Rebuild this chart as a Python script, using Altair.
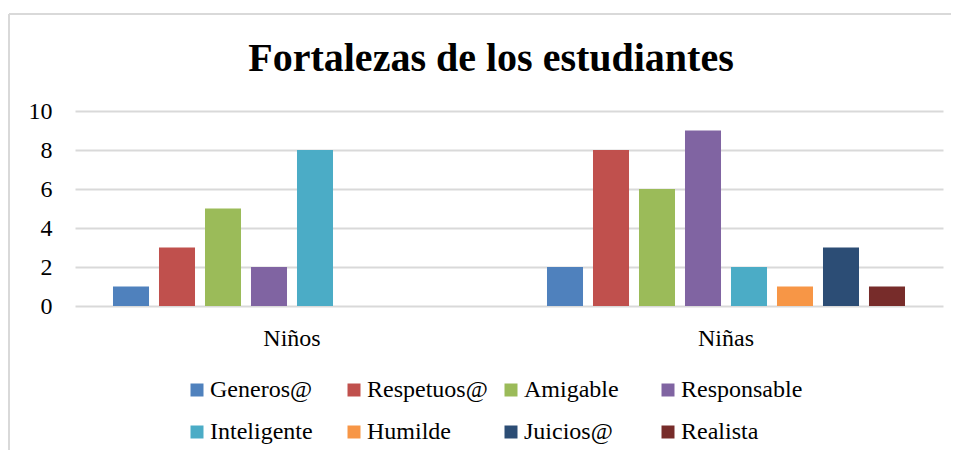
import altair as alt
import pandas as pd

groups = ["Niños", "Niñas"]
series = ["Generos@", "Respetuos@", "Amigable", "Responsable",
          "Inteligente", "Humilde", "Juicios@", "Realista"]
ninos = [1, 3, 5, 2, 8, 0, 0, 0]
ninas = [2, 8, 6, 9, 2, 1, 3, 1]
colors = ["#4F81BD", "#C0504D", "#9BBB59", "#8064A2",
          "#4BACC6", "#F79646", "#2C4D75", "#772C2A"]
y_ticks = [0, 2, 4, 6, 8, 10]
title_text = "Fortalezas de los estudiantes"

rows = []
for g, vals in zip(groups, [ninos, ninas]):
    for s, v in zip(series, vals):
        rows.append({"grupo": g, "fortaleza": s, "valor": v})
df = pd.DataFrame(rows)

FONT = "Liberation Serif"
GRID = "#d9d9d9"

bars = alt.Chart(df).mark_bar().encode(
    x=alt.X("grupo:N", sort=groups,
            scale=alt.Scale(paddingInner=0, paddingOuter=0),
            axis=alt.Axis(title=None, labelAngle=0, domain=False, ticks=False,
                          labelPadding=20, labelFontSize=24, labelFont=FONT,
                          labelColor="#000000", grid=False)),
    xOffset=alt.XOffset("fortaleza:N", sort=series,
                        scale=alt.Scale(paddingInner=0.217, paddingOuter=0.826)),
    y=alt.Y("valor:Q", scale=alt.Scale(domain=[0, 10]),
            axis=alt.Axis(values=y_ticks, title=None, domain=False, ticks=False,
                          labelPadding=23, labelFontSize=24, labelFont=FONT,
                          labelColor="#000000", gridColor=GRID, gridWidth=2)),
    color=alt.Color("fortaleza:N", sort=series,
                    scale=alt.Scale(domain=series, range=colors),
                    legend=alt.Legend(title=None, orient="none", legendX=110, legendY=267,
                                      direction="horizontal", columns=4, gridAlign="all",
                                      columnPadding=10, rowPadding=18,
                                      symbolType="square", symbolSize=169,
                                      symbolStrokeWidth=0, labelOffset=1,
                                      labelFontSize=24, labelFont=FONT,
                                      labelColor="#000000", padding=0)),
)

frame_df = pd.DataFrame({"k": [0]})
frame_top = alt.Chart(frame_df).mark_rule(color=GRID, strokeWidth=2).encode(
    x=alt.value(-66), x2=alt.value(900), y=alt.value(-97))
frame_left = alt.Chart(frame_df).mark_rule(color=GRID, strokeWidth=2).encode(
    x=alt.value(-66), y=alt.value(-97), y2=alt.value(400))

chart = alt.layer(frame_top, frame_left, bars).properties(
    width=868, height=195,
    autosize=alt.AutoSizeParams(type="none"),
    padding={"left": 67, "top": 103, "right": 8, "bottom": 144},
    title=alt.TitleParams(title_text, font=FONT, fontSize=40, fontWeight="bold",
                          anchor="middle", dx=-18, dy=98, baseline="alphabetic",
                          offset=0, color="#000000"),
).configure_view(stroke=None)

chart.save("out.html", embed_options={"renderer": "svg", "actions": False})
